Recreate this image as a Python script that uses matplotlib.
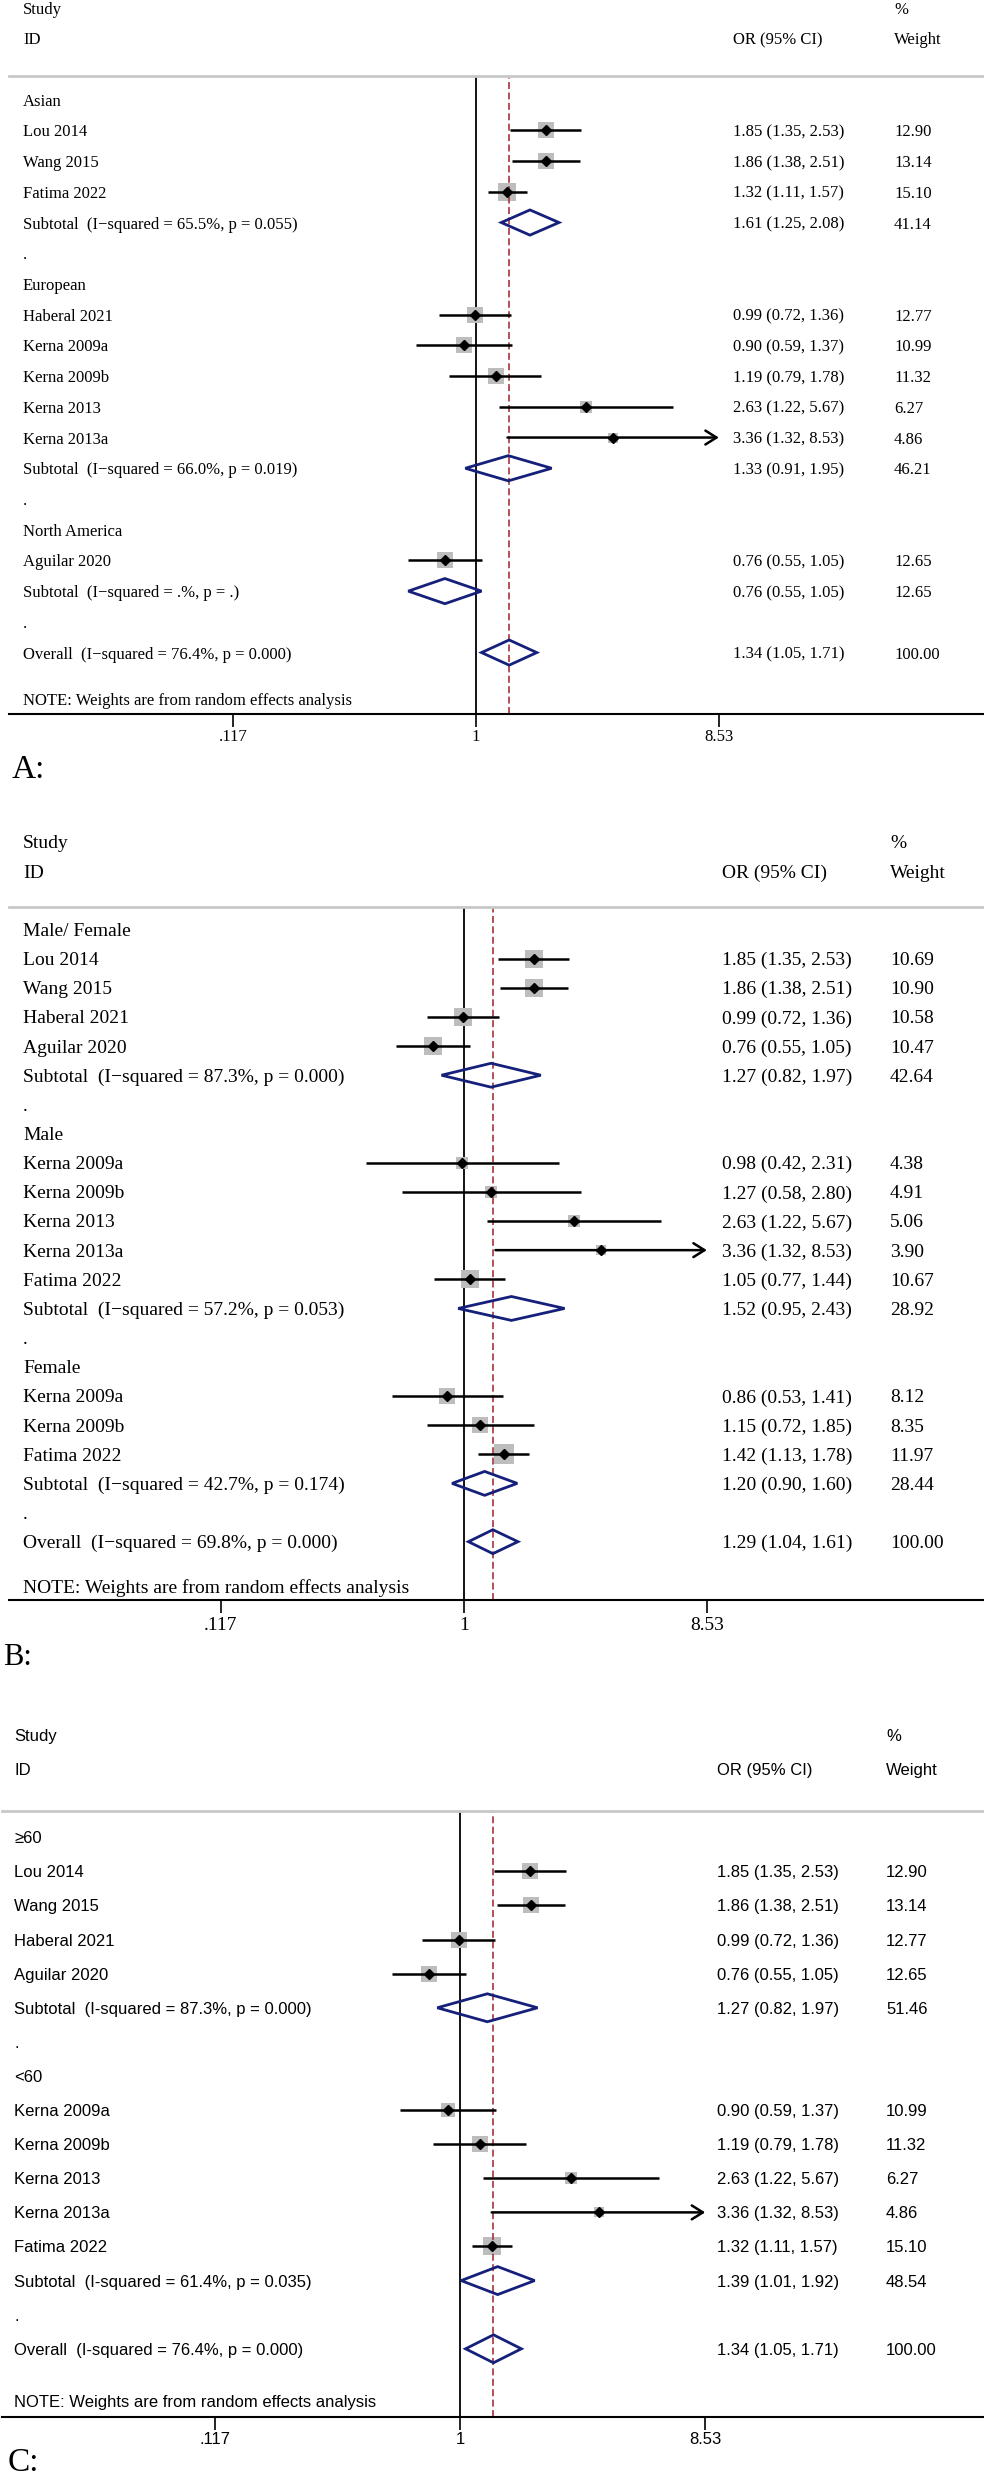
import numpy as np
import matplotlib
matplotlib.use("Agg")
import matplotlib.pyplot as plt
from matplotlib import transforms
from matplotlib.ticker import NullLocator

# ---------------- data ----------------
# A: by ethnicity
a_labels = ["Asian", "Lou 2014", "Wang 2015", "Fatima 2022",
            "Subtotal  (I\u2212squared = 65.5%, p = 0.055)", ".",
            "European", "Haberal 2021", "Kerna 2009a", "Kerna 2009b", "Kerna 2013", "Kerna 2013a",
            "Subtotal  (I\u2212squared = 66.0%, p = 0.019)", ".",
            "North America", "Aguilar 2020",
            "Subtotal  (I\u2212squared = .%, p = .)", ".",
            "Overall  (I\u2212squared = 76.4%, p = 0.000)"]
a_or = [None, 1.85, 1.86, 1.32, 1.61, None, None, 0.99, 0.90, 1.19, 2.63, 3.36, 1.33, None, None, 0.76, 0.76, None, 1.34]
a_lo = [None, 1.35, 1.38, 1.11, 1.25, None, None, 0.72, 0.59, 0.79, 1.22, 1.32, 0.91, None, None, 0.55, 0.55, None, 1.05]
a_hi = [None, 2.53, 2.51, 1.57, 2.08, None, None, 1.36, 1.37, 1.78, 5.67, 8.53, 1.95, None, None, 1.05, 1.05, None, 1.71]
a_wt = [None, 12.90, 13.14, 15.10, 41.14, None, None, 12.77, 10.99, 11.32, 6.27, 4.86, 46.21, None, None, 12.65, 12.65, None, 100.00]

# B: by gender
b_labels = ["Male/ Female", "Lou 2014", "Wang 2015", "Haberal 2021", "Aguilar 2020",
            "Subtotal  (I\u2212squared = 87.3%, p = 0.000)", ".",
            "Male", "Kerna 2009a", "Kerna 2009b", "Kerna 2013", "Kerna 2013a", "Fatima 2022",
            "Subtotal  (I\u2212squared = 57.2%, p = 0.053)", ".",
            "Female", "Kerna 2009a", "Kerna 2009b", "Fatima 2022",
            "Subtotal  (I\u2212squared = 42.7%, p = 0.174)", ".",
            "Overall  (I\u2212squared = 69.8%, p = 0.000)"]
b_or = [None, 1.85, 1.86, 0.99, 0.76, 1.27, None, None, 0.98, 1.27, 2.63, 3.36, 1.05, 1.52, None, None, 0.86, 1.15, 1.42, 1.20, None, 1.29]
b_lo = [None, 1.35, 1.38, 0.72, 0.55, 0.82, None, None, 0.42, 0.58, 1.22, 1.32, 0.77, 0.95, None, None, 0.53, 0.72, 1.13, 0.90, None, 1.04]
b_hi = [None, 2.53, 2.51, 1.36, 1.05, 1.97, None, None, 2.31, 2.80, 5.67, 8.53, 1.44, 2.43, None, None, 1.41, 1.85, 1.78, 1.60, None, 1.61]
b_wt = [None, 10.69, 10.90, 10.58, 10.47, 42.64, None, None, 4.38, 4.91, 5.06, 3.90, 10.67, 28.92, None, None, 8.12, 8.35, 11.97, 28.44, None, 100.00]

# C: by age
c_labels = ["\u226560", "Lou 2014", "Wang 2015", "Haberal 2021", "Aguilar 2020",
            "Subtotal  (I-squared = 87.3%, p = 0.000)", ".",
            "<60", "Kerna 2009a", "Kerna 2009b", "Kerna 2013", "Kerna 2013a", "Fatima 2022",
            "Subtotal  (I-squared = 61.4%, p = 0.035)", ".",
            "Overall  (I-squared = 76.4%, p = 0.000)"]
c_or = [None, 1.85, 1.86, 0.99, 0.76, 1.27, None, None, 0.90, 1.19, 2.63, 3.36, 1.32, 1.39, None, 1.34]
c_lo = [None, 1.35, 1.38, 0.72, 0.55, 0.82, None, None, 0.59, 0.79, 1.22, 1.32, 1.11, 1.01, None, 1.05]
c_hi = [None, 2.53, 2.51, 1.36, 1.05, 1.97, None, None, 1.37, 1.78, 5.67, 8.53, 1.57, 1.92, None, 1.71]
c_wt = [None, 12.90, 13.14, 12.77, 12.65, 51.46, None, None, 10.99, 11.32, 6.27, 4.86, 15.10, 48.54, None, 100.00]

ticks = [0.117, 1, 8.53]
tick_labels = [".117", "1", "8.53"]

# ---------------- layout (pixels) ----------------
W, H = 984, 2479
HEAD_ROW = -0.77
NAVY = "#15207a"
RED = "#a8323c"

layouts = [
    dict(top=76, bottom=714, axis_row=20, left=9, one_px=476, px_per_ln=113.3,
         x_lab=23, x_or=733, x_wt=894, font=["Liberation Serif", "DejaVu Serif"], fs=12,
         box=11.4, letter="A:", letter_xy=(12, 778), letter_fs=24, pad=2),
    dict(top=907, bottom=1600, axis_row=23, left=9, one_px=464, px_per_ln=113.3,
         x_lab=23, x_or=722, x_wt=890, font=["Liberation Serif", "DejaVu Serif"], fs=14,
         box=15.7, letter="B:", letter_xy=(3, 1665), letter_fs=22, pad=3),
    dict(top=1811, bottom=2417, axis_row=17, left=2, one_px=460, px_per_ln=114.4,
         x_lab=14, x_or=717, x_wt=886, font=["Liberation Sans", "DejaVu Sans"], fs=12,
         box=10.5, letter="C:", letter_xy=(8, 2471), letter_fs=24, pad=2),
]

plt.rcParams["lines.scale_dashes"] = False
fig = plt.figure(figsize=(W / 100, H / 100), dpi=100)


def draw_panel(labels, ors, los, his, wts, lay):
    ax = fig.add_axes([lay["left"] / W, 1 - lay["bottom"] / H,
                       (W - lay["left"]) / W, (lay["bottom"] - lay["top"]) / H])
    ax.set_xscale("log")
    one, sc = lay["one_px"], lay["px_per_ln"]
    ax.set_xlim(np.exp((lay["left"] - one) / sc), np.exp((W - one) / sc))
    ax.set_ylim(lay["axis_row"], HEAD_ROW)

    fp = dict(family=lay["font"], fontsize=lay["fs"])
    trans = transforms.blended_transform_factory(fig.transFigure, ax.transData)

    def put(x, y, s):
        ax.text(x / W, y, s, transform=trans, ha="left", va="center_baseline",
                clip_on=False, **fp)

    # headers
    put(lay["x_lab"], -3.0, "Study")
    put(lay["x_wt"], -3.0, "%")
    put(lay["x_lab"], -2.0, "ID")
    put(lay["x_or"], -2.0, "OR (95% CI)")
    put(lay["x_wt"], -2.0, "Weight")

    ax.axvline(1, color="k", lw=1.3, zorder=1)
    ax.axvline(ors[-1], color=RED, lw=1.2, linestyle=(0, (5, 2.5)), zorder=2.5)

    dh = 0.41
    for i, (lab, o, lo, hi, w) in enumerate(zip(labels, ors, los, his, wts)):
        put(lay["x_lab"], i, lab)
        if o is None:
            continue
        put(lay["x_or"], i, f"{o:.2f} ({lo:.2f}, {hi:.2f})")
        put(lay["x_wt"], i, f"{w:.2f}")
        if lab.startswith(("Subtotal", "Overall")):
            ax.fill([lo, o, hi, o], [i, i - dh, i, i + dh], facecolor="none",
                    edgecolor=NAVY, lw=2, zorder=4)
        else:
            ax.scatter([o], [i], marker="s", s=lay["box"] * w, color="#bdbdbd",
                       linewidths=0, zorder=2)
            if hi >= ticks[-1]:
                ax.annotate("", xy=(hi, i), xytext=(lo, i),
                            arrowprops=dict(arrowstyle="->,head_length=0.8,head_width=0.5",
                                            lw=1.8, color="k", shrinkA=0, shrinkB=0,
                                            mutation_scale=10), zorder=3)
            else:
                ax.hlines(i, lo, hi, color="k", lw=1.8, zorder=3)
            ax.plot([o], [i], marker="D", ms=5, color="k", zorder=5)

    put(lay["x_lab"], lay["axis_row"] - 0.48, "NOTE: Weights are from random effects analysis")

    for side in ("left", "right"):
        ax.spines[side].set_visible(False)
    ax.spines["top"].set_color("#c8c8c8")
    ax.spines["top"].set_linewidth(2)
    ax.spines["bottom"].set_linewidth(1.5)
    ax.set_yticks([])
    ax.set_xticks(ticks)
    ax.set_xticklabels(tick_labels)
    ax.xaxis.set_minor_locator(NullLocator())
    ax.tick_params(axis="x", direction="out", length=9, width=1.2, pad=lay["pad"])
    for t in ax.get_xticklabels():
        t.set_fontfamily(lay["font"])
        t.set_fontsize(lay["fs"])

    lx, ly = lay["letter_xy"]
    fig.text(lx / W, 1 - ly / H, lay["letter"], fontsize=lay["letter_fs"],
             family=["Liberation Serif", "DejaVu Serif"], ha="left", va="baseline")


draw_panel(a_labels, a_or, a_lo, a_hi, a_wt, layouts[0])
draw_panel(b_labels, b_or, b_lo, b_hi, b_wt, layouts[1])
draw_panel(c_labels, c_or, c_lo, c_hi, c_wt, layouts[2])

fig.savefig("out.png", dpi=100)
